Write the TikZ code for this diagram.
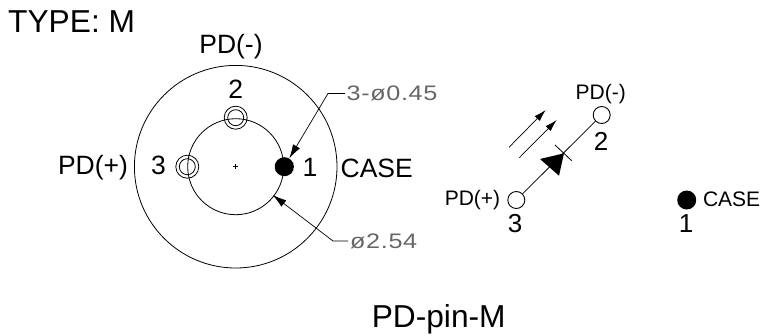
\documentclass[tikz,border=0pt]{standalone}
\usepackage{fontspec}
\setmainfont{Liberation Sans}
\newfontfamily\dimfont[FakeStretch=1.2,LetterSpace=3]{Liberation Sans}
\usetikzlibrary{arrows.meta}
\begin{document}
\begin{tikzpicture}[x=1pt,y=-1pt,
  txt/.style={inner sep=0pt,text=black,anchor=base},
  big/.style={txt,font=\fontsize{31.7}{34}\selectfont},
  lbl/.style={txt,font=\fontsize{26.5}{28}\selectfont},
  lblm/.style={txt,font=\fontsize{21}{23}\selectfont},
  num/.style={txt,font=\fontsize{26}{28}\selectfont},
  dim/.style={inner sep=0pt,anchor=base west,font=\dimfont\fontsize{21}{23}\selectfont,text=black!60},
  ln/.style={draw=black,line width=0.8pt},
  ring/.style={circle,draw=black,line width=0.8pt,inner sep=0pt,fill=none},
  term/.style={circle,draw=black,line width=0.9pt,inner sep=0pt,minimum size=17pt,fill=white},
  blob/.style={circle,fill=black,draw=none,inner sep=0pt,minimum size=19pt},
  lead/.style={draw=black,line width=0.7pt,-{Latex[length=14pt,width=8pt]}},
  ray/.style={draw=black,line width=0.7pt,-{Latex[length=12pt,width=7pt]}}]
\useasboundingbox (0,0) rectangle (762,335);
% left view
\node[ring,minimum size=202.6pt] (outer) at (235.7,166.7) {};
\node[ring,minimum size=96pt] (inner) at (235.7,166.7) {};
\node[ring,minimum size=23pt] (p2o) at (235.7,117.7) {};
\node[ring,minimum size=16pt] (p2i) at (235.7,117.7) {};
\node[ring,minimum size=23pt] (p3o) at (187.3,166.7) {};
\node[ring,minimum size=16pt] (p3i) at (187.3,166.7) {};
\node[blob] (p1) at (284.3,166.7) {};
\foreach \a in {160,170,180,190,200,205,-5,5,-20,20,-35}
  \draw[line width=0.5pt] (p1.\a) -- ++(\a:-2.5);
\coordinate (cl) at (233.2,166.7); \coordinate (cr) at (238.2,166.7);
\coordinate (ct) at (235.7,164.2); \coordinate (cb) at (235.7,169.2);
\draw[line width=0.5pt] (cl) -- (cr) (ct) -- (cb);
% leaders
\node[dim] (d1) at (346.5,100.8) {3-ø0.45};
\node[dim] (d2) at (350,248.3) {ø2.54};
\coordinate (k1) at (328,93.5); \coordinate (k2) at (333,241);
\coordinate (e1) at (345,93.5); \coordinate (e2) at (348,241);
\coordinate (t2) at (272.7,195);
\draw[lead] (e1) -- (k1) -- (p1);
\draw[lead] (e2) -- (k2) -- (t2);
% labels left
\node[big,anchor=base west] (type) at (8,32.7) {TYPE: M};
\node[lbl] (pdm) at (231,53.3) {PD(-)};
\node[lbl] (n2) at (235.7,98.3) {2};
\node[lbl] (n3) at (158.4,174.5) {3};
\node[lbl] (n1) at (310,176) {1};
\node[lbl] (cs) at (376.7,177) {CASE};
\node[lbl] (pdp) at (93,174.7) {PD(+)};
\node[big] (title) at (438.7,327.3) {PD-pin-M};
% schematic
\node[term] (t3) at (516.3,200) {};
\node[term] (t2n) at (601.7,115) {};
\draw[ln] (t3) -- (t2n);
\coordinate (apex) at (564,153.3);
\coordinate (b1) at (540,159); \coordinate (b2) at (559,175.7);
\fill[black] (apex) -- (b1) -- (b2) -- cycle;
\coordinate (bar1) at (555,145); \coordinate (bar2) at (571.7,160.7);
\draw[ln] (bar1) -- (bar2);
\coordinate (r1a) at (509,147.3); \coordinate (r1b) at (545.7,110);
\coordinate (r2a) at (519.3,157.7); \coordinate (r2b) at (556.7,120);
\draw[ray] (r1a) -- (r1b);
\draw[ray] (r2a) -- (r2b);
\node[blob] (c1) at (686.7,200) {};
\node[lblm] (spdm) at (600.8,99.3) {PD(-)};
\node[num] (s2) at (601,150) {2};
\node[lblm] (spdp) at (472.5,205) {PD(+)};
\node[num] (s3) at (515,232.7) {3};
\node[num] (s1) at (686,232.7) {1};
\node[lblm] (scase) at (731.6,206.7) {CASE};
\end{tikzpicture}
\end{document}
